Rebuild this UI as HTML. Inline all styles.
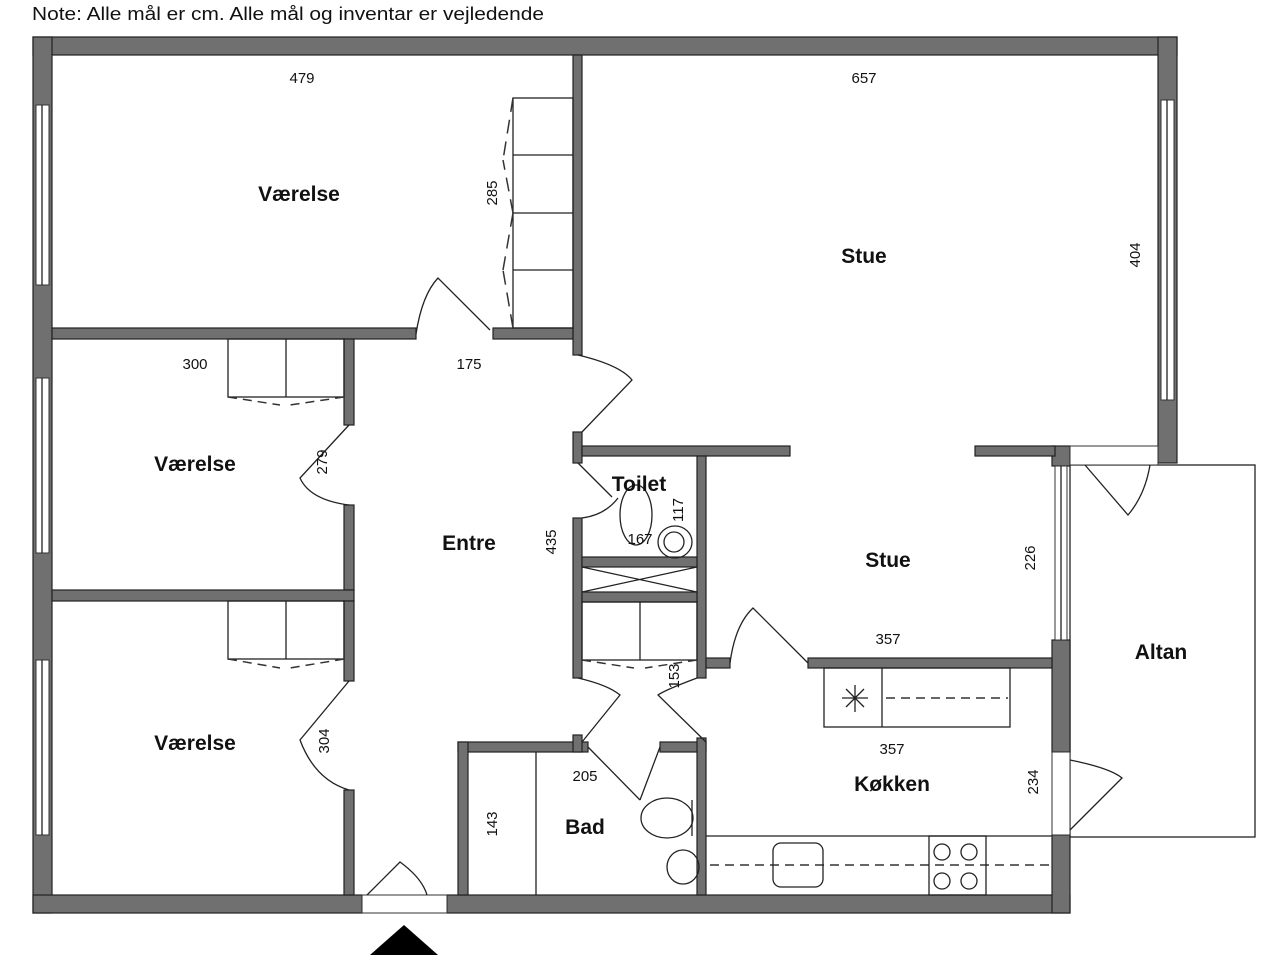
<!DOCTYPE html>
<html><head><meta charset="utf-8"><style>
html,body{margin:0;padding:0;background:#fff;}
svg{display:block;}
text{font-family:"Liberation Sans",sans-serif;fill:#111;}
.w{fill:#707070;stroke:#222;stroke-width:1.2;}
.l{fill:none;stroke:#222;stroke-width:1.3;}
.d{fill:none;stroke:#333;stroke-width:1.5;stroke-dasharray:9 6;}
.win{fill:#fff;stroke:#333;stroke-width:1;}
.rl{font-size:21px;font-weight:bold;}
.dm{font-size:15px;}
</style></head><body>
<svg width="1280" height="960" viewBox="0 0 1280 960" xmlns="http://www.w3.org/2000/svg">
<text x="32" y="20" font-size="18" textLength="512" lengthAdjust="spacingAndGlyphs">Note: Alle mål er cm. Alle mål og inventar er vejledende</text>

<rect x="1070" y="465" width="185" height="372" class="l"/>

<rect x="33" y="37" width="1144" height="18" class="w"/>
<rect x="33" y="37" width="19" height="876" class="w"/>
<rect x="1158" y="37" width="19" height="426" class="w"/>
<rect x="33" y="895" width="329" height="18" class="w"/>
<rect x="447" y="895" width="623" height="18" class="w"/>
<rect x="1052" y="640" width="18" height="112" class="w"/>
<rect x="1052" y="835" width="18" height="78" class="w"/>
<rect x="1052" y="446" width="18" height="20" class="w"/>

<rect x="36" y="105" width="13" height="180" class="win"/><line x1="42" y1="105" x2="42" y2="285" class="l"/>
<rect x="36" y="378" width="13" height="175" class="win"/><line x1="42" y1="378" x2="42" y2="553" class="l"/>
<rect x="36" y="660" width="13" height="175" class="win"/><line x1="42" y1="660" x2="42" y2="835" class="l"/>
<rect x="1161" y="100" width="13" height="300" class="win"/><line x1="1167" y1="100" x2="1167" y2="400" class="l"/>
<rect x="1055" y="466" width="12" height="174" class="win"/><line x1="1061" y1="466" x2="1061" y2="640" class="l"/>
<rect x="1052" y="752" width="18" height="83" class="win"/>
<rect x="362" y="895" width="85" height="18" class="win"/>
<rect x="1070" y="446" width="88" height="19" class="win"/>

<rect x="573" y="55" width="9" height="300" class="w"/>
<rect x="52" y="328" width="364" height="11" class="w"/>
<rect x="493" y="328" width="80" height="11" class="w"/>
<rect x="344" y="339" width="10" height="86" class="w"/>
<rect x="344" y="505" width="10" height="85" class="w"/>
<rect x="52" y="590" width="302" height="11" class="w"/>
<rect x="344" y="601" width="10" height="80" class="w"/>
<rect x="344" y="790" width="10" height="105" class="w"/>
<rect x="573" y="432" width="9" height="31" class="w"/>
<rect x="573" y="518" width="9" height="160" class="w"/>
<rect x="582" y="446" width="208" height="10" class="w"/>
<rect x="975" y="446" width="80" height="10" class="w"/>
<rect x="697" y="456" width="9" height="222" class="w"/>
<rect x="582" y="557" width="115" height="10" class="w"/>
<rect x="582" y="592" width="115" height="10" class="w"/>
<rect x="706" y="658" width="24" height="10" class="w"/>
<rect x="808" y="658" width="244" height="10" class="w"/>
<rect x="458" y="742" width="130" height="10" class="w"/>
<rect x="660" y="742" width="46" height="10" class="w"/>
<rect x="458" y="742" width="10" height="153" class="w"/>
<rect x="697" y="738" width="9" height="157" class="w"/>
<rect x="573" y="735" width="9" height="17" class="w"/>

<rect x="513" y="98" width="60" height="230" class="l"/>
<line x1="513" y1="155" x2="573" y2="155" class="l"/><line x1="513" y1="213" x2="573" y2="213" class="l"/><line x1="513" y1="270" x2="573" y2="270" class="l"/>
<path d="M513 98 L503 160 M513 213 L503 160 M513 213 L503 270 M513 328 L503 270" class="d" style="stroke-dasharray:14 8"/>
<rect x="228" y="339" width="116" height="58" class="l"/><line x1="286" y1="339" x2="286" y2="397" class="l"/>
<path d="M228 397 L280 405 M344 397 L290 405" class="d"/>
<rect x="228" y="601" width="116" height="58" class="l"/><line x1="286" y1="601" x2="286" y2="659" class="l"/>
<path d="M228 659 L280 668 M344 659 L290 668" class="d"/>
<rect x="582" y="602" width="115" height="58" class="l"/><line x1="640" y1="602" x2="640" y2="660" class="l"/>
<path d="M582 660 L634 668 M697 660 L645 668" class="d"/>
<path d="M582 567 L697 592 M697 567 L582 592" class="l"/>

<path d="M416 334 Q422 295 438 278 L490 330" class="l"/>
<path d="M578 355 Q620 365 632 380 L582 432" class="l"/>
<path d="M349 425 L300 478 Q310 500 349 505" class="l"/>
<path d="M349 681 L300 740 Q315 780 349 790" class="l"/>
<path d="M578 463 L612 497 M582 518 Q605 515 618 498" class="l"/>
<path d="M730 663 Q735 625 753 608 L808 663" class="l"/>
<path d="M578 678 Q608 685 620 695 L582 742" class="l"/>
<path d="M697 678 Q665 690 658 695 L706 742" class="l"/>
<path d="M588 747 L640 800 M660 747 L640 800" class="l"/>
<path d="M367 895 L400 862 Q422 878 427 895" class="l"/>
<path d="M1085 465 L1128 515 Q1145 495 1150 465" class="l"/>
<path d="M1070 760 Q1110 768 1122 778 L1070 830" class="l"/>
<polygon points="370,955 404,925 438,955" fill="#000"/>

<ellipse cx="636" cy="515" rx="16" ry="30" class="l"/>
<ellipse cx="675" cy="542" rx="17" ry="16" class="l"/>
<circle cx="674" cy="542" r="10" class="l"/>
<line x1="536" y1="752" x2="536" y2="895" class="l"/>
<ellipse cx="667" cy="818" rx="26" ry="20" class="l"/><line x1="692" y1="800" x2="692" y2="836" class="l"/>
<ellipse cx="683" cy="867" rx="16" ry="17" class="l"/>
<rect x="824" y="668" width="186" height="59" class="l"/><line x1="882" y1="668" x2="882" y2="727" class="l"/>
<line x1="886" y1="698" x2="1008" y2="698" class="d"/>
<path d="M855 685 V712 M842 698 H868 M846 689 L864 707 M864 689 L846 707" class="l"/>
<line x1="706" y1="836" x2="1052" y2="836" class="l"/>
<line x1="710" y1="865" x2="1050" y2="865" class="d"/>
<rect x="773" y="843" width="50" height="44" rx="8" class="l"/>
<rect x="929" y="836" width="57" height="59" class="l"/>
<circle cx="942" cy="852" r="8" class="l"/><circle cx="969" cy="852" r="8" class="l"/>
<circle cx="942" cy="881" r="8" class="l"/><circle cx="969" cy="881" r="8" class="l"/>

<text x="299" y="201" class="rl" text-anchor="middle">Værelse</text>
<text x="864" y="263" class="rl" text-anchor="middle">Stue</text>
<text x="195" y="471" class="rl" text-anchor="middle">Værelse</text>
<text x="195" y="750" class="rl" text-anchor="middle">Værelse</text>
<text x="469" y="550" class="rl" text-anchor="middle">Entre</text>
<text x="888" y="567" class="rl" text-anchor="middle">Stue</text>
<text x="639" y="491" class="rl" text-anchor="middle">Toilet</text>
<text x="1161" y="659" class="rl" text-anchor="middle">Altan</text>
<text x="892" y="791" class="rl" text-anchor="middle">Køkken</text>
<text x="585" y="834" class="rl" text-anchor="middle">Bad</text>

<text x="302" y="83" class="dm" text-anchor="middle">479</text>
<text x="864" y="83" class="dm" text-anchor="middle">657</text>
<text x="195" y="369" class="dm" text-anchor="middle">300</text>
<text x="469" y="369" class="dm" text-anchor="middle">175</text>
<text x="640" y="544" class="dm" text-anchor="middle">167</text>
<text x="888" y="644" class="dm" text-anchor="middle">357</text>
<text x="892" y="754" class="dm" text-anchor="middle">357</text>
<text x="585" y="781" class="dm" text-anchor="middle">205</text>
<text class="dm" text-anchor="middle" transform="translate(497,193) rotate(-90)">285</text>
<text class="dm" text-anchor="middle" transform="translate(1140,255) rotate(-90)">404</text>
<text class="dm" text-anchor="middle" transform="translate(327,462) rotate(-90)">279</text>
<text class="dm" text-anchor="middle" transform="translate(556,542) rotate(-90)">435</text>
<text class="dm" text-anchor="middle" transform="translate(683,510) rotate(-90)">117</text>
<text class="dm" text-anchor="middle" transform="translate(1035,558) rotate(-90)">226</text>
<text class="dm" text-anchor="middle" transform="translate(679,676) rotate(-90)">153</text>
<text class="dm" text-anchor="middle" transform="translate(329,741) rotate(-90)">304</text>
<text class="dm" text-anchor="middle" transform="translate(497,824) rotate(-90)">143</text>
<text class="dm" text-anchor="middle" transform="translate(1038,782) rotate(-90)">234</text>
</svg>
</body></html>
